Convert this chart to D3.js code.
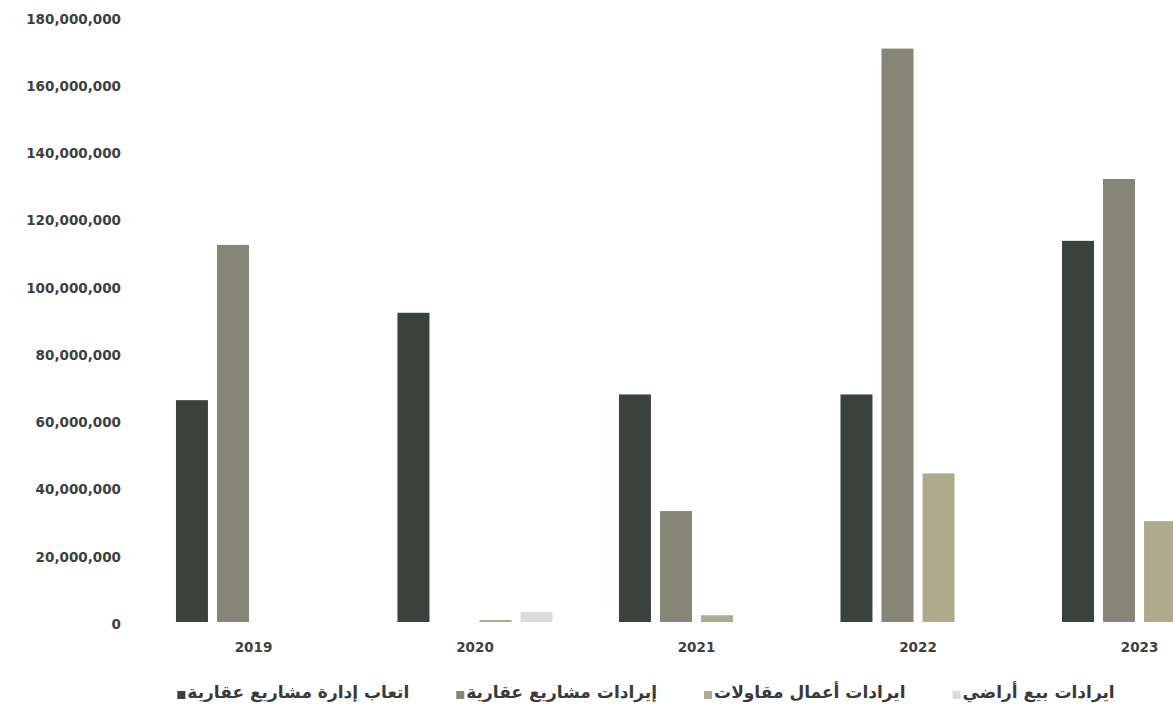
<!DOCTYPE html>
<html>
<head>
<meta charset="utf-8">
<script src="https://cdn.jsdelivr.net/npm/d3@7"></script>
<style>
  html, body { margin: 0; padding: 0; background: #fff; }
  svg { display: block; }
</style>
</head>
<body>
<svg id="chart" width="1173" height="713"></svg>
<script>
// ---- data ----
const years = ["2019", "2020", "2021", "2022", "2023"];
const seriesNames = [
  "اتعاب إدارة مشاريع عقارية",
  "إيرادات مشاريع عقارية",
  "ايرادات أعمال مقاولات",
  "ايرادات بيع أراضي"
];
const feesRealEstateMgmt   = [66000000, 92000000, 67700000, 67700000, 113400000];
const realEstateProjects   = [112200000, 0, 33000000, 170600000, 131800000];
const contractingRevenue   = [0, 600000, 2000000, 44200000, 30000000];
const landSalesRevenue     = [0, 3000000, 0, 0, 0];
const yTicks = [0, 20000000, 40000000, 60000000, 80000000, 100000000, 120000000, 140000000, 160000000, 180000000];
const colors = ["#3b423e", "#868676", "#b0aa8d", "#dcdcda"];

const seriesValues = [feesRealEstateMgmt, realEstateProjects, contractingRevenue, landSalesRevenue];
const rows = years.map((y, i) => ({ year: y, values: seriesValues.map(s => s[i]) }));

// ---- layout ----
const svg = d3.select("#chart");
const fontNum = "'DejaVu Sans', sans-serif";

const x = d3.scaleBand().domain(years).range([109.5, 1283.5]).paddingInner(0.3).paddingOuter(0.3);
const xs = d3.scaleBand().domain(d3.range(seriesNames.length)).range([0, x.bandwidth()]).paddingInner(0.22).paddingOuter(0);
const y = d3.scaleLinear().domain([0, 180000000]).range([622, 17]);

// y axis
const yAxis = d3.axisLeft(y).tickValues(yTicks).tickFormat(d3.format(",")).tickSize(0).tickPadding(0);
const gy = svg.append("g").attr("transform", "translate(121,2)").call(yAxis);
gy.select(".domain").remove();
gy.selectAll("text").attr("font-family", fontNum).attr("font-size", 13.5).attr("font-weight", "bold").attr("fill", "#3f3f3f");

// bars
const groups = svg.append("g").selectAll("g").data(rows).join("g")
  .attr("transform", d => `translate(${x(d.year)},0)`);
groups.selectAll("rect").data(d => d.values.map((v, k) => ({ k, v }))).join("rect")
  .attr("x", d => xs(d.k))
  .attr("width", xs.bandwidth())
  .attr("y", d => y(d.v))
  .attr("height", d => y(0) - y(d.v))
  .attr("fill", d => colors[d.k]);

// x axis
const xAxis = d3.axisBottom(x).tickSize(0).tickPadding(0);
const gx = svg.append("g").attr("transform", "translate(0,642)").call(xAxis);
gx.select(".domain").remove();
gx.selectAll("text").attr("font-family", fontNum).attr("font-size", 13.5).attr("font-weight", "bold").attr("fill", "#3f3f3f");

// legend
const legend = svg.append("g").attr("transform", "translate(0,692)");
const items = legend.selectAll("g").data(seriesNames).join("g");
items.append("rect").attr("width", 8).attr("height", 8).attr("y", -1).attr("fill", (d, i) => colors[i]);
items.append("text").attr("x", 10).attr("dy", "0.35em")
  .attr("font-family", "'DejaVu Sans', sans-serif").attr("font-size", 17).attr("font-weight", "bold")
  .attr("fill", "#3a3a3a").text(d => d);
// position items: centered, fixed gap
const widths = [];
items.each(function () { widths.push(this.getBBox().width); });
const gap = 47;
const total = d3.sum(widths) + gap * (widths.length - 1);
let cx = 646 - total / 2;
items.attr("transform", (d, i) => { const t = `translate(${cx},0)`; cx += widths[i] + gap; return t; });
</script>
</body>
</html>
